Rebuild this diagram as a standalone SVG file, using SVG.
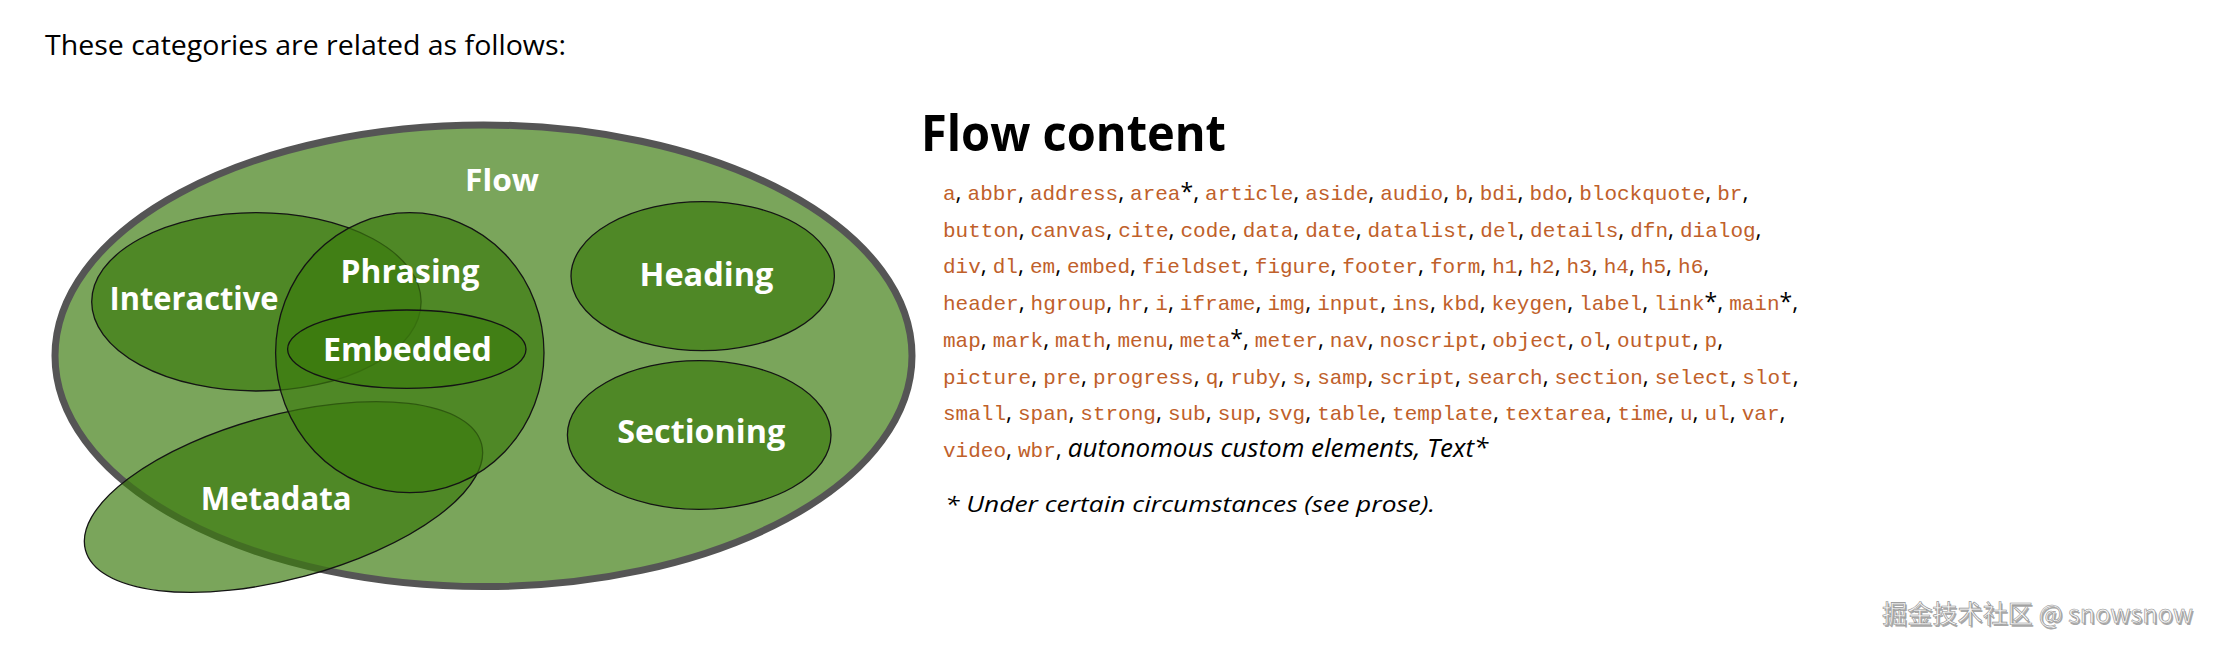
<svg xmlns="http://www.w3.org/2000/svg" width="2215" height="647" viewBox="0 0 2215 647">
<style>
.bg{fill:#ffffff}
.outer{fill:#3b7b0e;fill-opacity:0.68;stroke:#555555;stroke-width:7}
.cat{fill:#3b7b0e;fill-opacity:0.68;stroke:#141414;stroke-width:1.3}
.lbl{font-family:"Open Sans","Noto Sans",sans-serif;font-weight:700;font-size:33px;fill:#ffffff;text-anchor:middle}
.title{font-family:"Open Sans","Noto Sans",sans-serif;font-size:27px;fill:#000000}
.h{font-family:"Open Sans","Noto Sans",sans-serif;font-weight:700;font-size:50px;fill:#000000}
.ln{font-family:"Open Sans","Noto Sans",sans-serif;font-size:23px;fill:#000000}
.c{font-family:"Liberation Mono","DejaVu Sans Mono",monospace;font-size:21px;fill:#c0602a}
.it{font-style:italic;font-size:26px}
.foot{font-family:"Open Sans","Noto Sans",sans-serif;font-style:italic;font-size:22px;fill:#000000}
.wm{font-family:"Noto Sans CJK SC","Noto Sans",sans-serif;font-size:25px}
</style>
<rect class="bg" x="0" y="0" width="2215" height="647"/>
<text class="title" x="45" y="55" textLength="521" lengthAdjust="spacingAndGlyphs">These categories are related as follows:</text>

<g id="flow">
<ellipse class="outer" cx="483.5" cy="355.8" rx="428.5" ry="230.8"/>
</g>
<g id="metadata">
<ellipse class="cat" cx="283.5" cy="497" rx="205" ry="82" transform="rotate(-15 283.5 497)"/>
</g>
<g id="interactive">
<ellipse class="cat" cx="256.4" cy="301.8" rx="164.7" ry="89.2"/>
</g>
<g id="phrasing">
<ellipse class="cat" cx="409.8" cy="352.7" rx="134.2" ry="140"/>
</g>
<g id="embedded">
<ellipse class="cat" cx="406.8" cy="349.2" rx="119.2" ry="39.2"/>
</g>
<g id="heading">
<ellipse class="cat" cx="702.7" cy="276.2" rx="131.7" ry="74.5"/>
</g>
<g id="sectioning">
<ellipse class="cat" cx="699.2" cy="435" rx="131.8" ry="74.3"/>
</g>

<g id="labels">
<text class="lbl" x="502" y="191" style="font-size:30px" textLength="74" lengthAdjust="spacingAndGlyphs">Flow</text>
<text class="lbl" x="194" y="310" textLength="169" lengthAdjust="spacingAndGlyphs">Interactive</text>
<text class="lbl" x="410" y="283" textLength="139" lengthAdjust="spacingAndGlyphs">Phrasing</text>
<text class="lbl" x="407.4" y="361" textLength="169" lengthAdjust="spacingAndGlyphs">Embedded</text>
<text class="lbl" x="706.5" y="286" textLength="134" lengthAdjust="spacingAndGlyphs">Heading</text>
<text class="lbl" x="701.2" y="443" textLength="168" lengthAdjust="spacingAndGlyphs">Sectioning</text>
<text class="lbl" x="276.2" y="510" textLength="151" lengthAdjust="spacingAndGlyphs">Metadata</text>
</g>

<g id="connectors"></g>

<g id="flow-content">
<text class="h" x="921" y="151" textLength="305" lengthAdjust="spacingAndGlyphs">Flow content</text>
<text class="ln" x="943" y="200"><tspan class="c">a</tspan>, <tspan class="c">abbr</tspan>, <tspan class="c">address</tspan>, <tspan class="c">area</tspan>*, <tspan class="c">article</tspan>, <tspan class="c">aside</tspan>, <tspan class="c">audio</tspan>, <tspan class="c">b</tspan>, <tspan class="c">bdi</tspan>, <tspan class="c">bdo</tspan>, <tspan class="c">blockquote</tspan>, <tspan class="c">br</tspan>,</text>
<text class="ln" x="943" y="236.7"><tspan class="c">button</tspan>, <tspan class="c">canvas</tspan>, <tspan class="c">cite</tspan>, <tspan class="c">code</tspan>, <tspan class="c">data</tspan>, <tspan class="c">date</tspan>, <tspan class="c">datalist</tspan>, <tspan class="c">del</tspan>, <tspan class="c">details</tspan>, <tspan class="c">dfn</tspan>, <tspan class="c">dialog</tspan>,</text>
<text class="ln" x="943" y="273.4"><tspan class="c">div</tspan>, <tspan class="c">dl</tspan>, <tspan class="c">em</tspan>, <tspan class="c">embed</tspan>, <tspan class="c">fieldset</tspan>, <tspan class="c">figure</tspan>, <tspan class="c">footer</tspan>, <tspan class="c">form</tspan>, <tspan class="c">h1</tspan>, <tspan class="c">h2</tspan>, <tspan class="c">h3</tspan>, <tspan class="c">h4</tspan>, <tspan class="c">h5</tspan>, <tspan class="c">h6</tspan>,</text>
<text class="ln" x="943" y="310.1"><tspan class="c">header</tspan>, <tspan class="c">hgroup</tspan>, <tspan class="c">hr</tspan>, <tspan class="c">i</tspan>, <tspan class="c">iframe</tspan>, <tspan class="c">img</tspan>, <tspan class="c">input</tspan>, <tspan class="c">ins</tspan>, <tspan class="c">kbd</tspan>, <tspan class="c">keygen</tspan>, <tspan class="c">label</tspan>, <tspan class="c">link</tspan>*, <tspan class="c">main</tspan>*,</text>
<text class="ln" x="943" y="346.8"><tspan class="c">map</tspan>, <tspan class="c">mark</tspan>, <tspan class="c">math</tspan>, <tspan class="c">menu</tspan>, <tspan class="c">meta</tspan>*, <tspan class="c">meter</tspan>, <tspan class="c">nav</tspan>, <tspan class="c">noscript</tspan>, <tspan class="c">object</tspan>, <tspan class="c">ol</tspan>, <tspan class="c">output</tspan>, <tspan class="c">p</tspan>,</text>
<text class="ln" x="943" y="383.5"><tspan class="c">picture</tspan>, <tspan class="c">pre</tspan>, <tspan class="c">progress</tspan>, <tspan class="c">q</tspan>, <tspan class="c">ruby</tspan>, <tspan class="c">s</tspan>, <tspan class="c">samp</tspan>, <tspan class="c">script</tspan>, <tspan class="c">search</tspan>, <tspan class="c">section</tspan>, <tspan class="c">select</tspan>, <tspan class="c">slot</tspan>,</text>
<text class="ln" x="943" y="420.2"><tspan class="c">small</tspan>, <tspan class="c">span</tspan>, <tspan class="c">strong</tspan>, <tspan class="c">sub</tspan>, <tspan class="c">sup</tspan>, <tspan class="c">svg</tspan>, <tspan class="c">table</tspan>, <tspan class="c">template</tspan>, <tspan class="c">textarea</tspan>, <tspan class="c">time</tspan>, <tspan class="c">u</tspan>, <tspan class="c">ul</tspan>, <tspan class="c">var</tspan>,</text>
<text class="ln" x="943" y="456.9"><tspan class="c">video</tspan>, <tspan class="c">wbr</tspan>, <tspan class="it">autonomous custom elements, Text*</tspan></text>
<text class="foot" x="945" y="511.5" textLength="490" lengthAdjust="spacingAndGlyphs">* Under certain circumstances (see prose).</text>
</g>

<g id="watermark">
<text class="wm" x="1883.5" y="624.5" fill="#a8a8a8" textLength="311" lengthAdjust="spacingAndGlyphs">掘金技术社区 @ snowsnow</text>
<text class="wm" x="1882" y="623" fill="#f6f6f6" stroke="#909090" stroke-width="0.6" textLength="311" lengthAdjust="spacingAndGlyphs">掘金技术社区 @ snowsnow</text>
</g>
</svg>
